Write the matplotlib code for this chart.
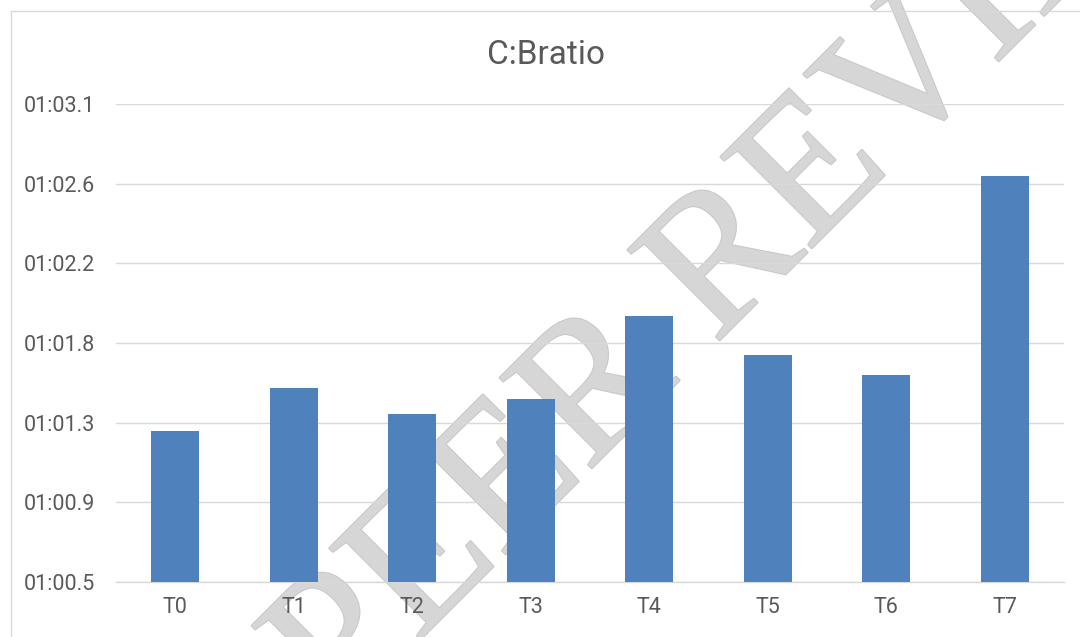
import matplotlib
matplotlib.use("Agg")
import matplotlib.pyplot as plt
from matplotlib.patches import Rectangle
import matplotlib.patheffects as pe

# ---- data (values in seconds) ----
categories = ["T0", "T1", "T2", "T3", "T4", "T5", "T6", "T7"]
values_sec = [61.30, 61.53, 61.39, 61.47, 61.92, 61.71, 61.60, 62.68]
tick_values = [60.480, 60.912, 61.344, 61.776, 62.208, 62.640, 63.072]
tick_labels = ["01:00.5", "01:00.9", "01:01.3", "01:01.8", "01:02.2", "01:02.6", "01:03.1"]
title = "C:Bratio"
watermark = "PEER REVIEW"

TEXT = "#595959"
GRID = "#d9d9d9"
BAR = "#4f81bd"

plt.rcParams['font.family'] = ['Roboto', 'DejaVu Sans']

fig = plt.figure(figsize=(10.8, 6.37), dpi=100)
fig.patch.set_facecolor("white")

# chart area border (cropped on right/bottom)
fig.patches.append(Rectangle((10.5 / 1080, -0.1), 1.2, 1 - 11 / 637 + 0.1,
                             transform=fig.transFigure, fill=False,
                             edgecolor=GRID, linewidth=1.0))

ax = fig.add_axes([116 / 1080, 1 - 582 / 637, (1064 - 116) / 1080, (582 - 104) / 637])
ax.set_facecolor("none")

x = list(range(len(categories)))
ax.bar(x, [v - tick_values[0] for v in values_sec], bottom=tick_values[0],
       width=0.405, color=BAR, zorder=3)

ax.set_xlim(-0.5, len(categories) - 0.5)
ax.set_ylim(tick_values[0], tick_values[-1])
ax.set_yticks(tick_values)
ax.set_yticklabels(tick_labels)
ax.set_xticks(x)
ax.set_xticklabels(categories)

ax.grid(axis="y", color=GRID, linewidth=1.0)
ax.set_axisbelow(True)
for s in ["top", "right", "left"]:
    ax.spines[s].set_visible(False)
ax.spines["bottom"].set_color(GRID)
ax.spines["bottom"].set_linewidth(1.0)

ax.tick_params(axis="both", length=0, colors=TEXT, labelsize=15.5)
ax.tick_params(axis="y", pad=15)
ax.tick_params(axis="x", pad=11)

fig.text(546 / 1080, 1 - 55 / 637, title, ha="center", va="center",
         fontsize=24, color=TEXT)

# watermark, drawn beneath gridlines, labels and bars
ax.text(798 / 1080, 1 - 262 / 637, watermark, transform=fig.transFigure,
        rotation=45, rotation_mode="anchor", ha="center", va="baseline",
        fontsize=142, family="Liberation Serif", color="#d6d6d6",
        zorder=0.3,
        path_effects=[pe.withStroke(linewidth=1.5, foreground="#c8c8c8")])

fig.savefig("out.png", dpi=100, facecolor="white")
